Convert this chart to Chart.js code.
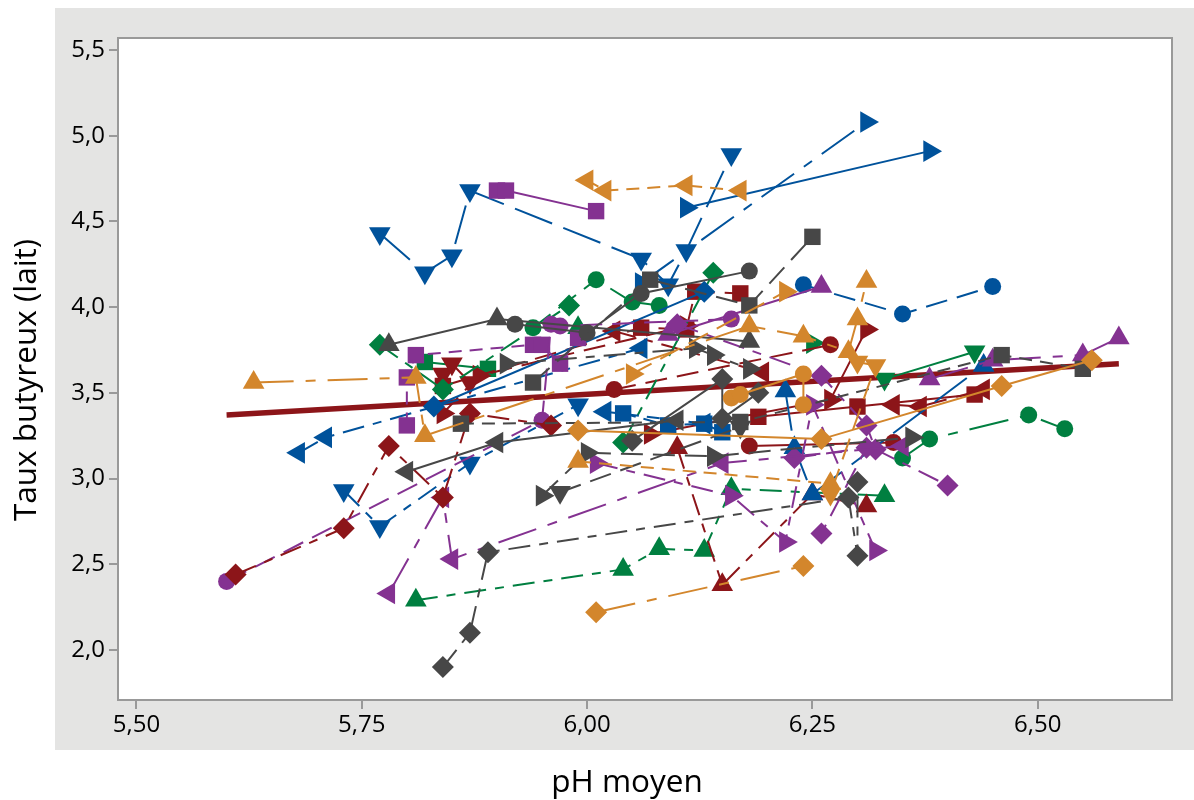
<!DOCTYPE html>
<html lang="fr">
<head>
<meta charset="utf-8">
<title>Taux butyreux (lait) vs pH moyen</title>
<script src="https://cdn.jsdelivr.net/npm/chart.js@4/dist/chart.umd.min.js"></script>
<style>
  html, body { margin: 0; padding: 0; background: #fff; }
  #panel { position: absolute; left: 55px; top: 8px; width: 1139px; height: 742px; background: #e4e4e3; }
  #wrap { position: absolute; left: 0; top: 0; width: 1194px; height: 800px; }
</style>
</head>
<body>
<div id="panel"></div>
<div id="wrap"><canvas id="chart" width="1194" height="800"></canvas></div>
<script>
/* Taux butyreux vs pH moyen: one line per herd. */
var xTicks = [5.5, 5.75, 6.0, 6.25, 6.5];
var xTickLabels = ["5,50", "5,75", "6,00", "6,25", "6,50"];
var yTicks = [2.0, 2.5, 3.0, 3.5, 4.0, 4.5, 5.0, 5.5];
var yTickLabels = ["2,0", "2,5", "3,0", "3,5", "4,0", "4,5", "5,0", "5,5"];

var trendX = [5.60, 6.59];
var trendY = [3.37, 3.67];

// green
var grnDiamondAX = [5.77, 5.84, 5.98];
var grnDiamondAY = [3.78, 3.52, 4.01];
var grnDiamondBX = [6.04, 6.14];
var grnDiamondBY = [3.21, 4.20];
var grnSquareX = [5.82, 5.89];
var grnSquareY = [3.68, 3.64];
var grnCircleAX = [5.94, 6.01, 6.05, 6.08];
var grnCircleAY = [3.88, 4.16, 4.03, 4.01];
var grnCircleBX = [6.35, 6.38, 6.49, 6.53];
var grnCircleBY = [3.12, 3.23, 3.37, 3.29];
var grnUpAX = [5.81, 6.04, 6.08, 6.13, 6.16, 6.33];
var grnUpAY = [2.29, 2.47, 2.59, 2.58, 2.94, 2.90];
var grnUpBX = [5.99];
var grnUpBY = [3.88];
var grnDownX = [6.33, 6.43];
var grnDownY = [3.58, 3.74];
var grnRightX = [6.25];
var grnRightY = [3.79];

// red
var redSquareAX = [5.84, 6.06, 6.11, 6.12, 6.17];
var redSquareAY = [3.54, 3.88, 3.87, 4.09, 4.08];
var redSquareBX = [6.19, 6.30, 6.43];
var redSquareBY = [3.36, 3.42, 3.49];
var redRightAX = [5.84, 5.88, 6.11];
var redRightAY = [3.38, 3.60, 3.89];
var redRightBX = [6.07, 6.27, 6.31];
var redRightBY = [3.26, 3.46, 3.87];
var redDownX = [5.84, 5.85, 5.87];
var redDownY = [3.61, 3.67, 3.56];
var redCircleAX = [6.03, 6.27];
var redCircleAY = [3.52, 3.78];
var redCircleBX = [6.18, 6.34];
var redCircleBY = [3.19, 3.21];
var redLeftAX = [6.03, 6.195];
var redLeftAY = [3.86, 3.62];
var redLeftBX = [6.34, 6.37, 6.44];
var redLeftBY = [3.43, 3.42, 3.52];
var redUpX = [6.10, 6.15, 6.25, 6.31];
var redUpY = [3.18, 2.38, 2.91, 2.84];

// blue
var bluDownAX = [5.77, 5.82, 5.85, 5.87, 6.06, 6.09, 6.11, 6.16];
var bluDownAY = [4.43, 4.20, 4.30, 4.68, 4.28, 4.13, 4.33, 4.89];
var bluDownBX = [5.73, 5.77, 5.87, 5.99];
var bluDownBY = [2.93, 2.72, 3.09, 3.43];
var bluRightAX = [6.06, 6.31];
var bluRightAY = [4.14, 5.08];
var bluRightBX = [6.11, 6.38];
var bluRightBY = [4.58, 4.91];
var bluDiamondX = [5.83, 6.13];
var bluDiamondY = [3.42, 4.09];
var bluLeftAX = [5.68, 5.71, 6.06];
var bluLeftAY = [3.15, 3.24, 3.76];
var bluLeftBX = [6.02, 6.13];
var bluLeftBY = [3.39, 3.32];
var bluSquareX = [6.04, 6.09, 6.13, 6.15];
var bluSquareY = [3.38, 3.31, 3.32, 3.27];
var bluUpX = [6.22, 6.23, 6.25, 6.44];
var bluUpY = [3.51, 3.18, 2.91, 3.66];
var bluCircleX = [6.24, 6.35, 6.45];
var bluCircleY = [4.13, 3.96, 4.12];

// purple
var purSquareAX = [5.90, 5.91, 6.01];
var purSquareAY = [4.68, 4.68, 4.56];
var purSquareBX = [5.80, 5.80, 5.81, 5.94, 5.95, 5.97, 5.99];
var purSquareBY = [3.31, 3.59, 3.72, 3.78, 3.78, 3.67, 3.82];
var purCircleX = [5.60, 5.95, 5.96, 5.97, 6.16];
var purCircleY = [2.40, 3.34, 3.90, 3.89, 3.93];
var purUpAX = [6.09, 6.26];
var purUpAY = [3.84, 4.12];
var purUpBX = [6.38, 6.45, 6.55, 6.59];
var purUpBY = [3.58, 3.69, 3.72, 3.82];
var purDiamondAX = [6.10, 6.26, 6.31, 6.32, 6.40];
var purDiamondAY = [3.90, 3.60, 3.31, 3.17, 2.96];
var purDiamondBX = [6.23, 6.31, 6.26];
var purDiamondBY = [3.12, 3.18, 2.68];
var purLeftX = [5.78, 5.84, 5.85, 6.15, 6.35];
var purLeftY = [2.33, 2.89, 2.53, 3.09, 3.19];
var purRightX = [6.01, 6.16, 6.22, 6.25, 6.32];
var purRightY = [3.09, 2.90, 2.63, 3.43, 2.58];

var redDiamondX = [5.61, 5.73, 5.78, 5.84, 5.87, 5.96];
var redDiamondY = [2.44, 2.71, 3.19, 2.89, 3.38, 3.31];

// grey
var gryUpX = [5.78, 5.90, 6.18];
var gryUpY = [3.78, 3.93, 3.80];
var gryCircleX = [5.92, 6.00, 6.06, 6.18];
var gryCircleY = [3.90, 3.85, 4.08, 4.21];
var grySquareAX = [5.94, 6.07, 6.18, 6.25];
var grySquareAY = [3.56, 4.16, 4.01, 4.41];
var gryDownX = [5.97, 6.17];
var gryDownY = [2.92, 3.30];
var grySquareBX = [5.86, 6.17, 6.46, 6.55];
var grySquareBY = [3.32, 3.33, 3.72, 3.64];
var gryDiamondAX = [6.05, 6.15, 6.15, 6.19];
var gryDiamondAY = [3.22, 3.58, 3.35, 3.50];
var gryDiamondBX = [5.84, 5.87, 5.89, 6.29, 6.30, 6.30];
var gryDiamondBY = [1.90, 2.10, 2.57, 2.89, 2.55, 2.98];
var gryLeftX = [5.80, 5.90, 6.10];
var gryLeftY = [3.04, 3.21, 3.34];
var gryRightAX = [5.91, 6.12, 6.14, 6.18];
var gryRightAY = [3.67, 3.76, 3.72, 3.64];
var gryRightBX = [5.95, 6.00, 6.14, 6.36];
var gryRightBY = [2.90, 3.15, 3.13, 3.24];

// orange
var orgUpAX = [5.63, 5.81, 5.82, 6.18, 6.24, 6.29, 6.30, 6.31];
var orgUpAY = [3.56, 3.59, 3.25, 3.89, 3.83, 3.74, 3.93, 4.15];
var orgUpBX = [5.99, 6.27];
var orgUpBY = [3.10, 2.97];
var orgLeftX = [6.00, 6.02, 6.11, 6.17];
var orgLeftY = [4.74, 4.68, 4.71, 4.68];
var orgRightX = [6.05, 6.22];
var orgRightY = [3.61, 4.09];
var orgDownX = [6.30, 6.32, 6.27];
var orgDownY = [3.68, 3.66, 2.91];
var orgDiamondAX = [5.99, 6.26, 6.46, 6.56];
var orgDiamondAY = [3.28, 3.23, 3.54, 3.69];
var orgDiamondBX = [6.01, 6.24];
var orgDiamondBY = [2.22, 2.49];
var orgCircleX = [6.16, 6.17, 6.24, 6.24];
var orgCircleY = [3.47, 3.49, 3.61, 3.43];

var BLUE = "#00529b", ORANGE = "#d3862c", PURPLE = "#843291";
var RED = "#8c1519", GREEN = "#007f40", GREY = "#474747";
var TREND = "#8c1519";

var SOLID = [], DASH = [22, 10], SHORT = [13, 8], LONG = [40, 12];
var DASHDOT = [40, 12, 10, 12], DOTDASH = [22, 9, 9, 9];

var SHAPES = {
  circle: { style: "circle", radius: 8.5, rotation: 0 },
  square: { style: "rect", radius: 11.6, rotation: 0 },
  diamond: { style: "rectRot", radius: 11, rotation: 0 },
  up: { style: "triangle", radius: 12.5, rotation: 0 },
  down: { style: "triangle", radius: 12.5, rotation: 180 },
  left: { style: "triangle", radius: 12.5, rotation: 270 },
  right: { style: "triangle", radius: 12.5, rotation: 90 }
};

// x, y, colour, shape, dash. Later rows sit on top.
var groups = [
  [grnSquareX, grnSquareY, GREEN, "square", SOLID],
  [grnCircleAX, grnCircleAY, GREEN, "circle", DASH],
  [grnCircleBX, grnCircleBY, GREEN, "circle", DASHDOT],
  [grnUpAX, grnUpAY, GREEN, "up", DOTDASH],
  [grnUpBX, grnUpBY, GREEN, "up", SOLID],
  [grnDownX, grnDownY, GREEN, "down", SOLID],
  [grnRightX, grnRightY, GREEN, "right", SOLID],
  [redSquareAX, redSquareAY, RED, "square", DASH],
  [redSquareBX, redSquareBY, RED, "square", SOLID],
  [redRightAX, redRightAY, RED, "right", DASH],
  [redRightBX, redRightBY, RED, "right", SOLID],
  [redDownX, redDownY, RED, "down", SOLID],
  [redCircleAX, redCircleAY, RED, "circle", DASH],
  [redCircleBX, redCircleBY, RED, "circle", SOLID],
  [redLeftAX, redLeftAY, RED, "left", DOTDASH],
  [redLeftBX, redLeftBY, RED, "left", DASH],
  [redUpX, redUpY, RED, "up", DOTDASH],
  [grnDiamondAX, grnDiamondAY, GREEN, "diamond", DOTDASH],
  [grnDiamondBX, grnDiamondBY, GREEN, "diamond", DOTDASH],
  [bluDownAX, bluDownAY, BLUE, "down", LONG],
  [bluDownBX, bluDownBY, BLUE, "down", DOTDASH],
  [bluRightAX, bluRightAY, BLUE, "right", DASHDOT],
  [bluRightBX, bluRightBY, BLUE, "right", SOLID],
  [bluDiamondX, bluDiamondY, BLUE, "diamond", SOLID],
  [bluLeftAX, bluLeftAY, BLUE, "left", DOTDASH],
  [bluLeftBX, bluLeftBY, BLUE, "left", SHORT],
  [bluSquareX, bluSquareY, BLUE, "square", SHORT],
  [bluUpX, bluUpY, BLUE, "up", LONG],
  [bluCircleX, bluCircleY, BLUE, "circle", DASH],
  [purSquareAX, purSquareAY, PURPLE, "square", SOLID],
  [purSquareBX, purSquareBY, PURPLE, "square", SHORT],
  [purCircleX, purCircleY, PURPLE, "circle", DASH],
  [purUpAX, purUpAY, PURPLE, "up", SOLID],
  [purUpBX, purUpBY, PURPLE, "up", DASHDOT],
  [purDiamondAX, purDiamondAY, PURPLE, "diamond", DOTDASH],
  [purDiamondBX, purDiamondBY, PURPLE, "diamond", DASH],
  [purLeftX, purLeftY, PURPLE, "left", DASHDOT],
  [purRightX, purRightY, PURPLE, "right", DOTDASH],
  [redDiamondX, redDiamondY, RED, "diamond", DOTDASH],
  [gryUpX, gryUpY, GREY, "up", SOLID],
  [gryCircleX, gryCircleY, GREY, "circle", SOLID],
  [grySquareAX, grySquareAY, GREY, "square", DASH],
  [gryDownX, gryDownY, GREY, "down", DASH],
  [grySquareBX, grySquareBY, GREY, "square", SHORT],
  [gryDiamondAX, gryDiamondAY, GREY, "diamond", SOLID],
  [gryDiamondBX, gryDiamondBY, GREY, "diamond", DOTDASH],
  [gryLeftX, gryLeftY, GREY, "left", SOLID],
  [gryRightAX, gryRightAY, GREY, "right", DOTDASH],
  [gryRightBX, gryRightBY, GREY, "right", DASH],
  [orgUpAX, orgUpAY, ORANGE, "up", DASHDOT],
  [orgUpBX, orgUpBY, ORANGE, "up", SHORT],
  [orgLeftX, orgLeftY, ORANGE, "left", SHORT],
  [orgRightX, orgRightY, ORANGE, "right", DASH],
  [orgDownX, orgDownY, ORANGE, "down", DASH],
  [orgDiamondAX, orgDiamondAY, ORANGE, "diamond", SOLID],
  [orgDiamondBX, orgDiamondBY, ORANGE, "diamond", DASHDOT],
  [orgCircleX, orgCircleY, ORANGE, "circle", SOLID]
];

function pairs(xs, ys) {
  return xs.map(function (x, i) { return { x: x, y: ys[i] }; });
}

var datasets = groups.map(function (g, i) {
  var shape = SHAPES[g[3]];
  return {
    data: pairs(g[0], g[1]),
    showLine: true,
    tension: 0,
    borderColor: g[2],
    backgroundColor: g[2],
    borderWidth: 2,
    borderDash: g[4],
    pointStyle: shape.style,
    pointRadius: shape.radius,
    pointRotation: shape.rotation,
    pointBorderWidth: 0,
    order: groups.length - i
  };
});

// thick fit line sits under every herd
datasets.push({
  data: pairs(trendX, trendY),
  showLine: true,
  borderColor: TREND,
  borderWidth: 5.5,
  pointRadius: 0,
  order: groups.length + 1
});

// white plot area and its grey frame
var plotFrame = {
  id: "plotFrame",
  beforeDraw: function (chart) {
    var a = chart.chartArea, c = chart.ctx;
    c.save();
    c.fillStyle = "#fff";
    c.fillRect(a.left, a.top, a.right - a.left, a.bottom - a.top);
    c.restore();
  },
  afterDraw: function (chart) {
    var a = chart.chartArea, c = chart.ctx;
    c.save();
    c.strokeStyle = "#999";
    c.lineWidth = 2;
    c.strokeRect(a.left, a.top, a.right - a.left, a.bottom - a.top);
    // axis titles are not centred on the plot in the original
    c.fillStyle = "#000";
    c.font = "31.5px 'Open Sans'";
    c.textAlign = "center";
    c.textBaseline = "middle";
    c.fillText("pH moyen", 627, 783);
    c.translate(27, 380);
    c.rotate(-Math.PI / 2);
    c.fillText("Taux butyreux (lait)", 0, 0);
    c.restore();
  }
};

var tickFont = { family: "'Open Sans'", size: 24 };

new Chart(document.getElementById("chart").getContext("2d"), {
  type: "scatter",
  plugins: [plotFrame],
  data: { datasets: datasets },
  options: {
    responsive: false,
    animation: false,
    events: [],
    layout: { padding: { left: 0, top: 38, right: 22, bottom: 0 } },
    plugins: { legend: { display: false }, tooltip: { enabled: false } },
    scales: {
      x: {
        type: "linear",
        min: 5.4795,
        max: 6.649,
        afterFit: function (s) { s.height = 100; },
        afterBuildTicks: function (s) { s.ticks = xTicks.map(function (v) { return { value: v }; }); },
        grid: { drawOnChartArea: false, color: "#999", lineWidth: 2, tickLength: 9 },
        border: { color: "#999", width: 2 },
        ticks: {
          color: "#000",
          font: tickFont,
          padding: 2,
          maxRotation: 0,
          autoSkip: false,
          callback: function (v) { return xTickLabels[xTicks.indexOf(v)]; }
        }
      },
      y: {
        type: "linear",
        min: 1.708,
        max: 5.57,
        afterFit: function (s) { s.width = 118; },
        afterBuildTicks: function (s) { s.ticks = yTicks.map(function (v) { return { value: v }; }); },
        grid: { drawOnChartArea: false, color: "#999", lineWidth: 2, tickLength: 9 },
        border: { color: "#999", width: 2 },
        ticks: {
          color: "#000",
          font: tickFont,
          padding: 4,
          autoSkip: false,
          callback: function (v) { return yTickLabels[yTicks.indexOf(v)]; }
        }
      }
    }
  }
});
</script>
</body>
</html>
